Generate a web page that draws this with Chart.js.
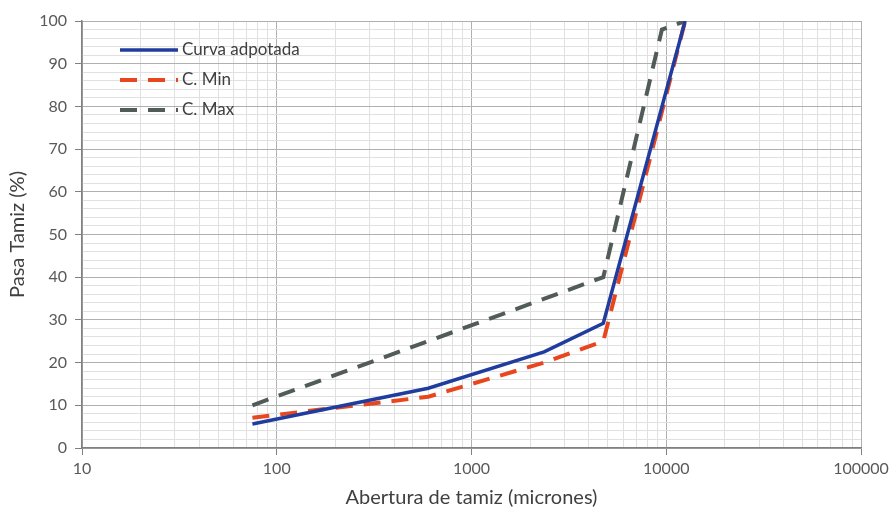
<!DOCTYPE html>
<html>
<head>
<meta charset="utf-8">
<script src="https://cdn.jsdelivr.net/npm/chart.js@4.4.1/dist/chart.umd.min.js"></script>
<style>
  html, body { margin: 0; padding: 0; background: #ffffff; }
  #wrap { width: 890px; height: 510px; }
</style>
</head>
<body>
<div id="wrap"><canvas id="curva"></canvas></div>
<script>
// Curva granulometrica
const tamices = [75, 600, 2360, 4750, 12500]          // abertura (micrones)
const curvaAdoptada = [5.6, 14, 22.5, 29.2, 100]

const tamicesMin = [75, 600, 2360, 4750, 12500]
const curvaMin = [7.1, 12, 20, 25, 100]

const tamicesMax = [75, 4750, 9500, 12500]
const curvaMax = [10, 40, 98, 100]

const xTickLabels = [10, 100, 1000, 10000, 100000]
const yTickLabels = [0, 10, 20, 30, 40, 50, 60, 70, 80, 90, 100]

const fuente = "Lato, 'Open Sans', sans-serif"

function puntos(xs, ys) {
    return xs.map((x, i) => ({ x: x, y: ys[i] }))
}

// leyenda dentro del area del grafico (arriba a la izquierda)
const leyendaInterna = {
    id: 'leyendaInterna',
    afterDatasetsDraw(chart) {
        const ctx = chart.ctx
        const a = chart.chartArea
        chart.data.datasets.forEach((ds, i) => {
            const y = a.top + 29 + i * 30
            const x0 = a.left + 38
            ctx.save()
            ctx.strokeStyle = ds.borderColor
            ctx.lineWidth = ds.borderWidth
            ctx.setLineDash(ds.borderDash || [])
            ctx.beginPath()
            ctx.moveTo(x0, y)
            ctx.lineTo(x0 + 58, y)
            ctx.stroke()
            ctx.setLineDash([])
            ctx.fillStyle = '#404040'
            ctx.font = '17px ' + fuente
            ctx.textBaseline = 'middle'
            ctx.fillText(ds.label, x0 + 62, y)
            ctx.restore()
        })
    }
}

let grafico = document.getElementById('curva').getContext('2d')
let chart = new Chart(grafico, {
    type: 'scatter',
    data: {
        datasets: [
            {
                label: 'Curva adpotada',
                data: puntos(tamices, curvaAdoptada),
                showLine: true,
                borderColor: '#1f3c9e',
                backgroundColor: '#1f3c9e',
                borderWidth: 3.5,
                pointRadius: 0
            },
            {
                label: 'C. Min',
                data: puntos(tamicesMin, curvaMin),
                showLine: true,
                borderColor: '#e8461e',
                backgroundColor: '#e8461e',
                borderWidth: 4,
                borderDash: [17, 11],
                pointRadius: 0
            },
            {
                label: 'C. Max',
                data: puntos(tamicesMax, curvaMax),
                showLine: true,
                borderColor: '#515b57',
                backgroundColor: '#515b57',
                borderWidth: 4,
                borderDash: [17, 11],
                pointRadius: 0
            }
        ]
    },
    options: {
        responsive: true,
        maintainAspectRatio: false,
        animation: false,
        layout: { padding: { top: 21, right: 29, left: 0, bottom: 0 } },
        plugins: {
            legend: { display: false },
            tooltip: { enabled: false }
        },
        scales: {
            x: {
                type: 'logarithmic',
                min: 10,
                max: 100000,
                afterBuildTicks(scale) {
                    const t = []
                    for (let d = 0; d < xTickLabels.length - 1; d++) {
                        for (let k = 1; k < 10; k++) t.push({ value: k * xTickLabels[d] })
                    }
                    t.push({ value: xTickLabels[xTickLabels.length - 1] })
                    scale.ticks = t
                },
                afterFit(scale) {
                    scale.height = 62
                    scale.paddingRight = 0
                    scale.paddingLeft = 0
                },
                ticks: {
                    autoSkip: false,
                    maxRotation: 0,
                    color: '#595959',
                    font: { family: fuente, size: 16 },
                    padding: 4,
                    callback: (v) => xTickLabels.includes(v) ? String(v) : ''
                },
                grid: {
                    color: (c) => xTickLabels.includes(c.tick.value) ? '#b0b0b0' : '#e0e0e0',
                    tickColor: (c) => xTickLabels.includes(c.tick.value) ? '#808080' : 'rgba(0,0,0,0)',
                    tickLength: 7,
                    lineWidth: 1
                },
                border: { color: '#808080', width: 1.5 },
                title: {
                    display: true,
                    text: 'Abertura de tamiz (micrones)',
                    color: '#404040',
                    font: { family: fuente, size: 20 },
                    padding: { top: 2, bottom: 0 }
                }
            },
            y: {
                min: 0,
                max: 100,
                afterBuildTicks(scale) {
                    const t = []
                    for (let v = 0; v <= 100; v += 2) t.push({ value: v })
                    scale.ticks = t
                },
                afterFit(scale) { scale.width = 82 },
                ticks: {
                    autoSkip: false,
                    color: '#595959',
                    font: { family: fuente, size: 16 },
                    padding: 8,
                    callback: (v) => yTickLabels.includes(v) ? String(v) : ''
                },
                grid: {
                    color: (c) => yTickLabels.includes(c.tick.value) ? '#b0b0b0' : '#e0e0e0',
                    tickColor: (c) => yTickLabels.includes(c.tick.value) ? '#808080' : 'rgba(0,0,0,0)',
                    tickLength: 7,
                    lineWidth: 1
                },
                border: { color: '#808080', width: 1.5 },
                title: {
                    display: true,
                    text: 'Pasa Tamiz (%)',
                    color: '#404040',
                    font: { family: fuente, size: 20 },
                    padding: { top: 6, bottom: 4 }
                }
            }
        }
    },
    plugins: [leyendaInterna]
})
</script>
</body>
</html>
